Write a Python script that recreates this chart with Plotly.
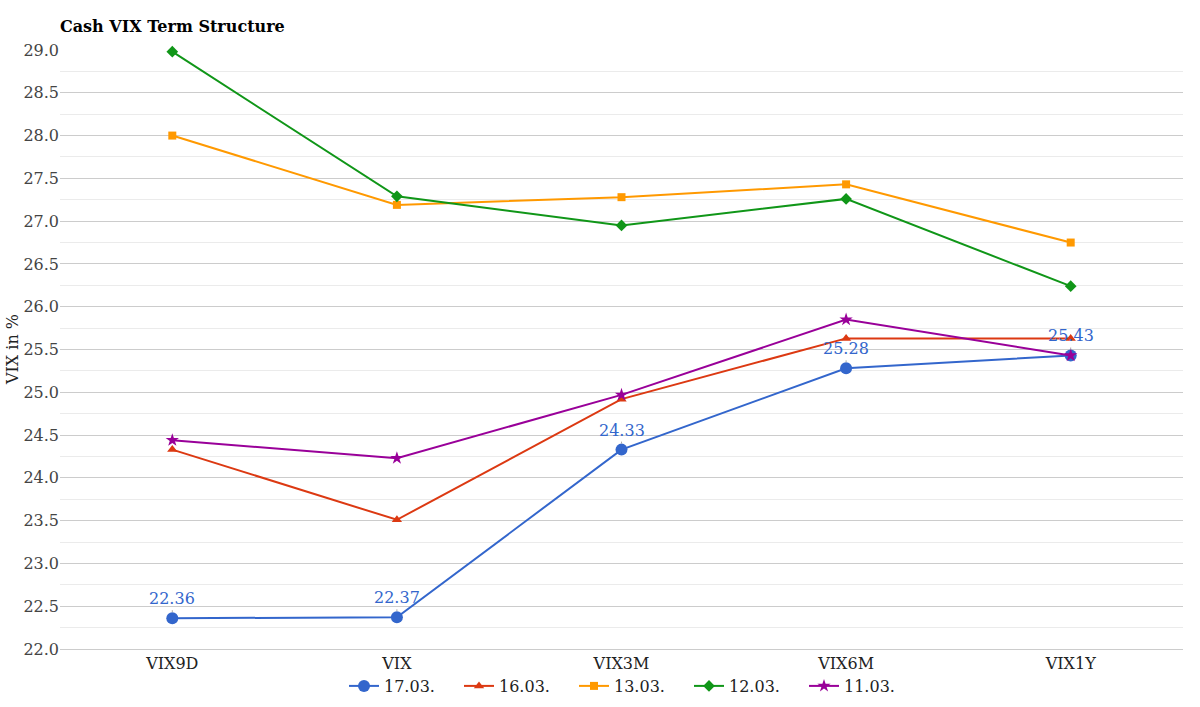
import plotly.graph_objects as go

categories = ["VIX9D", "VIX", "VIX3M", "VIX6M", "VIX1Y"]
s_1703 = [22.36, 22.37, 24.33, 25.28, 25.43]
s_1603 = [24.33, 23.51, 24.92, 25.63, 25.63]
s_1303 = [28.00, 27.19, 27.28, 27.43, 26.75]
s_1203 = [28.98, 27.29, 26.95, 27.26, 26.24]
s_1103 = [24.44, 24.23, 24.97, 25.85, 25.43]
y_ticks = [22.0, 22.5, 23.0, 23.5, 24.0, 24.5, 25.0, 25.5, 26.0, 26.5, 27.0, 27.5, 28.0, 28.5, 29.0]

FONT = "DejaVu Serif"
FS = 16

series = [
    ("17.03.", s_1703, "#3366cc", "circle", 12),
    ("16.03.", s_1603, "#dc3912", "triangle-up", 9),
    ("13.03.", s_1303, "#ff9900", "square", 8),
    ("12.03.", s_1203, "#109618", "diamond", 9),
    ("11.03.", s_1103, "#990099", "star", 10),
]

fig = go.Figure()
for name, vals, col, sym, sz in series:
    fig.add_trace(go.Scatter(
        x=categories, y=vals, name=name, mode="lines+markers",
        line=dict(color=col, width=2), cliponaxis=False,
        marker=dict(color=col, symbol=sym, size=sz),
    ))

for c, v in zip(categories, s_1703):
    fig.add_annotation(
        x=c, y=v, text=f"{v:.2f}", showarrow=True, arrowhead=0,
        arrowcolor="#aaaaaa", arrowwidth=1, ax=0, ay=-8,
        standoff=6, yanchor="bottom",
        font=dict(family=FONT, size=FS, color="#3366cc"),
    )

ML, MR, MT, MB = 60, 17, 50, 58
W, H = 1200, 707
plot_h = H - MT - MB
plot_w = W - ML - MR

fig.add_annotation(
    xref="paper", yref="paper", x=(12.5 - ML) / plot_w, y=0.5,
    text="VIX in %", textangle=-90, showarrow=False,
    xanchor="center", yanchor="middle",
    font=dict(family=FONT, size=FS, color="#222222"),
)

fig.update_layout(
    width=W, height=H,
    paper_bgcolor="white", plot_bgcolor="white",
    margin=dict(l=ML, r=MR, t=MT, b=MB, autoexpand=False),
    font=dict(family=FONT, size=FS, color="#222222"),
    title=dict(text="<b>Cash VIX Term Structure</b>", x=ML / W, xanchor="left",
               y=1 - 26 / H, yanchor="middle",
               font=dict(family=FONT, size=FS, color="#000000")),
    legend=dict(orientation="h", x=0.5 + 10 / plot_w, xanchor="center",
                y=-37 / plot_h, yanchor="middle",
                font=dict(family=FONT, size=FS, color="#222222"),
                itemwidth=30, entrywidth=70, entrywidthmode="pixels"),
    showlegend=True,
)
fig.update_xaxes(
    type="category", range=[-0.5, 4.5], showgrid=False, showline=True,
    linecolor="#cccccc", ticks="", automargin=False,
    tickfont=dict(family=FONT, size=FS, color="#222222"),
)
fig.update_yaxes(
    range=[22.0, 29.0], tickvals=y_ticks, ticktext=[f"{t:.1f}" for t in y_ticks],
    showgrid=True, gridcolor="#cccccc", gridwidth=1, zeroline=False, automargin=False,
    minor=dict(dtick=0.25, tick0=0, showgrid=True, gridcolor="#ebebeb", gridwidth=1),
    tickfont=dict(family=FONT, size=FS, color="#444444"),
)

fig.write_html("out.html", config={"displayModeBar": False},
               post_script="document.body.style.margin='0';")
